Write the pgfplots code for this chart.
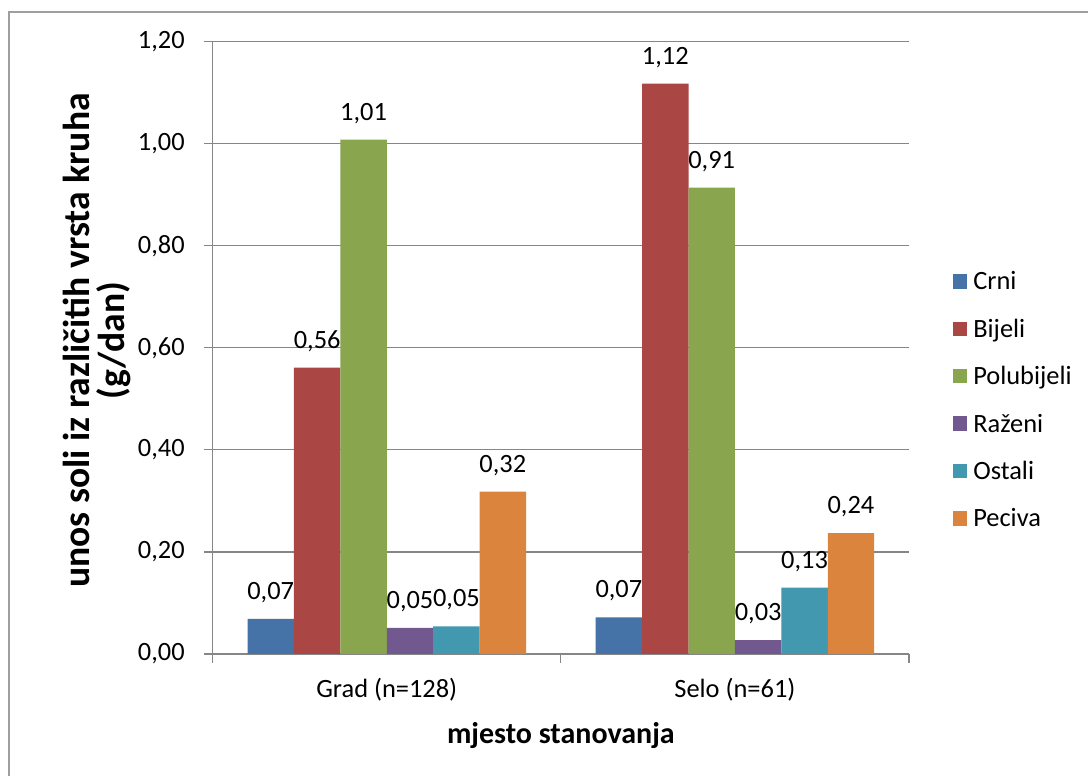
\documentclass[border=0pt]{standalone}
\usepackage{fontspec}
\setmainfont{Carlito}
\usepackage{pgfplots}
\pgfplotsset{compat=1.18}
\definecolor{cA}{HTML}{4572A7}
\definecolor{cB}{HTML}{AA4643}
\definecolor{cC}{HTML}{89A54E}
\definecolor{cD}{HTML}{71588F}
\definecolor{cE}{HTML}{4198AF}
\definecolor{cF}{HTML}{DB843D}
\definecolor{axgray}{HTML}{868686}
\pgfkeys{/pgf/number format/.cd, fixed, fixed zerofill, precision=2, use comma, assume math mode=true}
\newcommand{\reg}{\fontsize{13.2}{15.8}\selectfont}
\begin{document}
\begin{tikzpicture}
\useasboundingbox (0,0) rectangle (544pt,388pt);
\draw[color=axgray!80, line width=1pt] (4.5pt,-20pt) rectangle (600pt,382.2pt);
\begin{axis}[
  at={(106.35pt,61pt)}, anchor=south west,
  scale only axis, width=348.15pt, height=306.15pt,
  ybar=0pt, bar width=23.21pt,
  xmin=-0.5, xmax=1.5, ymin=0, ymax=1.2,
  xtick={-0.5,0.5,1.5}, xticklabels={},
  extra x ticks={0,1}, extra x tick labels={Grad (n=128),Selo (n=61)},
  extra x tick style={major tick length=0pt, grid=none},
  ytick={0,0.2,0.4,0.6,0.8,1.0,1.2},
  ymajorgrids, grid style={axgray, line width=0.6pt},
  axis x line*=bottom, axis y line*=left,
  axis line style={axgray, line width=0.6pt},
  tick align=outside, major tick length=4.5pt,
  tick style={axgray, line width=0.6pt},
  ticklabel style={font=\reg, text=black},
  xticklabel style={yshift=-8.5pt},
  yticklabel style={xshift=-6pt},
  xlabel={mjesto stanovanja},
  xlabel style={font=\bfseries\fontsize{15}{18}\selectfont, at={(axis description cs:0.5,0)}, anchor=base, yshift=-45pt},
  ylabel={unos soli iz različitih vrsta kruha\\(g/dan)},
  ylabel style={font=\bfseries\fontsize{18.8}{17.5}\selectfont, align=center, at={(axis description cs:-0.1666,0.512)}, anchor=center},
  nodes near coords,
  every node near coord/.append style={font=\reg, text=black, anchor=base, yshift=9.75pt, inner sep=0pt},
  legend style={at={(axis description cs:1,0.411)}, anchor=west, xshift=21.75pt, draw=none, fill=none, inner sep=0pt, row sep=11.7pt, column sep=3pt, font=\reg, nodes={inner sep=0pt, text height=9pt, text depth=3pt}},
  legend cell align=left,
  legend image code/.code={\fill[#1] (0pt,-2.4pt) rectangle (7.2pt,4.8pt);},
]
\addplot[fill=cA, draw=none] coordinates {(0,0.069) (1,0.072)};
\addplot[fill=cB, draw=none] coordinates {(0,0.561) (1,1.118)};
\addplot[fill=cC, draw=none] coordinates {(0,1.008) (1,0.914)};
\addplot[fill=cD, draw=none] coordinates {(0,0.051) (1,0.027)};
\addplot[fill=cE, draw=none] coordinates {(0,0.054) (1,0.13)};
\addplot[fill=cF, draw=none] coordinates {(0,0.318) (1,0.237)};
\legend{Crni,Bijeli,Polubijeli,Raženi,Ostali,Peciva}
\end{axis}
\end{tikzpicture}
\end{document}
